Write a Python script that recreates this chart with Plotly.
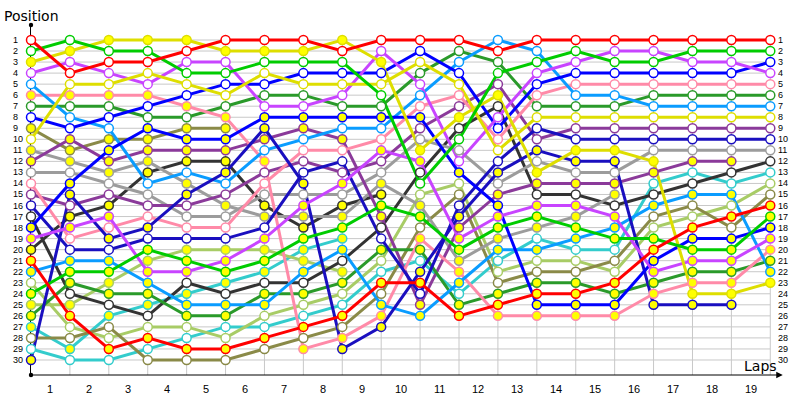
import plotly.graph_objects as go

# ---------------- data ----------------
laps = list(range(20))
positions = list(range(1, 31))
lap_labels = [str(i) for i in range(1, 20)]
N = None

red_w    = [1, 4, 3, 3, 2, 1, 1, 1, 2, 1, 1, 1, 2, 1, 1, 1, 1, 1, 1, 1]
red_y    = [21, 26, 29, 28, 29, 29, 28, 27, 26, 23, 23, 26, 25, 24, 24, 23, 20, 18, 17, 16]
green_w  = [2, 1, 2, 2, 4, 4, 3, 3, 3, 6, 14, 10, 4, 3, 2, 3, 3, 2, 2, 2]
green_y  = [24, 22, 22, 20, 21, 22, 21, 19, 18, 16, 17, 20, 18, 17, 18, 19, 19, 20, 20, 17]
yellow_y = [3, 2, 1, 1, 1, 2, 2, 2, 1, 3, 11, 8, 6, 13, 11, 11, 12, 24, 24, 23]
yellow_w = [10, 5, 5, 4, 5, 6, 4, 5, 5, 5, 3, 5, 11, 8, 8, 8, 8, 8, 8, 8]
violet_w = [4, 3, 4, 5, 3, 3, 7, 7, 6, 2, 5, 12, 8, 4, 3, 2, 2, 3, 3, 4]
violet_y = [19, 18, 17, 22, 22, 21, 19, 16, 14, 11, 12, 19, 17, 16, 16, 17, 22, 21, 21, 19]
lblue_w  = [5, 8, 9, 14, 13, 14, 11, 10, 9, 9, 6, 3, 1, 2, 6, 6, 7, 7, 7, 7]
lblue_y  = [22, 21, 21, 23, 25, 25, 25, 22, 20, 25, 26, 23, 20, 20, 19, 18, 16, 15, 15, 22]
pink_y   = [6, 6, 6, 6, 7, 8, 12, 29, 28, 26, 19, 22, 26, 26, 26, 26, 24, 23, 23, 20]
pink_w   = [14, 19, 18, 17, 18, 18, 14, 11, 11, 10, 7, 6, 10, 6, 5, 5, 5, 5, 5, 5]
dgreen_w = [7, 7, 7, 8, 8, 7, 6, 6, 7, 7, 4, 2, 3, 7, 7, 7, 6, 6, 6, 6]
dgreen_y = [26, 23, 24, 24, 26, 26, 24, 24, 23, 20, 20, 25, 24, 23, 23, 24, 23, 22, 22, 21]
blue_w   = [8, 9, 8, 7, 6, 5, 5, 4, 4, 4, 2, 4, 9, 5, 4, 4, 4, 4, 4, 3]
blue_y   = [18, 14, 11, 9, 10, 10, 8, 8, 8, 8, 8, 13, 16, 25, 25, 25, 21, 19, 19, 18]
olive_y  = [9, 11, 10, 10, 9, 9, N, N, N, N, N, N, N, N, N, N, N, N, N, N]
olive_w  = [28, 28, 27, 30, 30, 30, 29, 28, 27, 24, 18, 15, 23, 22, 22, 21, 17, 16, 18, 15]
gray_y   = [11, 12, 13, 12, 14, 16, 17, 17, 17, 14, 16, 21, 19, 18, 17, 15, N, N, N, N]
gray_w   = [13, 13, 14, 15, 17, 17, 15, 15, 15, 13, 10, 11, 14, 12, 13, 13, 11, 11, 11, 11]
purple_y = [12, 10, 12, 11, 11, 11, 10, 9, 10, 17, 25, 18, 15, 14, 14, 14, 13, 12, 12, N]
purple_w = [15, 16, 15, 16, 16, 15, 13, 12, 13, 12, 9, 7, 5, 10, 9, 9, 9, 9, 9, 9]
black_w  = [17, 24, 25, 26, 23, 24, 23, 23, 21, 18, 13, 9, 7, 15, 15, 16, 15, 14, 13, 12]
black_y  = [20, 17, 16, 13, 12, 12, 16, 18, 16, 15, N, N, N, N, N, N, N, N, N, N]
dblue_w  = [16, 20, 20, 19, 19, 19, 18, 13, 12, 19, 24, 16, 12, 9, 10, 10, 10, 10, 10, 10]
dblue_y  = [30, 15, 19, 18, 15, 13, 9, 14, 29, 27, 22, 17, 13, 11, 12, 12, 25, 25, 25, N]
lgreen_w = [23, 27, 28, 27, 27, 28, 26, 25, 24, 21, 15, 14, 22, 21, 21, 22, 18, 17, 16, 14]
lgreen_y = [25, 25, 23, 21, 20, 20, 20, 21, 22, N, N, N, N, N, N, N, N, N, N, N]
cyan_y   = [27, 29, 26, 25, 24, 23, 22, 20, 19, N, N, N, N, N, N, N, N, N, N, N]
cyan_w   = [29, 30, 30, 29, 28, 27, 27, 26, 25, 22, 21, 24, 21, 19, 20, 20, 14, 13, 14, 13]

# ---------------- styles ----------------
WHITE = "#ffffff"
YFILL = "#ffff00"
series = [
    (cyan_w, "#33cccc", WHITE), (cyan_y, "#33cccc", YFILL),
    (lgreen_w, "#a8cc66", WHITE), (lgreen_y, "#a8cc66", YFILL),
    (olive_w, "#8a8a48", WHITE), (olive_y, "#8a8a48", YFILL),
    (black_w, "#333333", WHITE), (black_y, "#333333", YFILL),
    (gray_w, "#9c9c9c", WHITE), (gray_y, "#9c9c9c", YFILL),
    (purple_w, "#8b3a9a", WHITE), (purple_y, "#8b3a9a", YFILL),
    (dgreen_w, "#2a9a2a", WHITE), (dgreen_y, "#2a9a2a", YFILL),
    (pink_w, "#ff8aa8", WHITE), (pink_y, "#ff8aa8", YFILL),
    (lblue_w, "#0a9cff", WHITE), (lblue_y, "#0a9cff", YFILL),
    (dblue_w, "#1a0fbf", WHITE), (dblue_y, "#1a0fbf", YFILL),
    (blue_w, "#0000ff", WHITE), (blue_y, "#0000ff", YFILL),
    (violet_w, "#c844ff", WHITE), (violet_y, "#c844ff", YFILL),
    (yellow_w, "#dede00", WHITE), (yellow_y, "#dede00", YFILL),
    (green_w, "#00cc00", WHITE), (green_y, "#00cc00", YFILL),
    (red_w, "#ff0000", WHITE), (red_y, "#ff0000", YFILL),
]

fig = go.Figure()
for vals, col, fill in series:
    fig.add_trace(go.Scatter(x=laps, y=vals, mode="lines", connectgaps=False,
                             line=dict(color=col, width=3), cliponaxis=False,
                             hoverinfo="skip"))
for vals, col, fill in series:
    fig.add_trace(go.Scatter(x=laps, y=vals, mode="markers", cliponaxis=False,
                             marker=dict(size=9, color=fill, line=dict(color=col, width=1.5)),
                             hoverinfo="skip"))

# ---------------- layout ----------------
Y_TOP, Y_BOT = -0.359, 31.36
X_MAX = 19.044
GRID = "#c8c8c8"

shapes = []
for p in positions:
    shapes.append(dict(type="line", xref="x", yref="y", x0=laps[0], x1=laps[-1], y0=p, y1=p,
                       line=dict(color=GRID, width=1), layer="below"))
for lp in laps[1:]:
    shapes.append(dict(type="line", xref="x", yref="y", x0=lp, x1=lp, y0=positions[0], y1=Y_BOT,
                       line=dict(color=GRID, width=1), layer="below"))
# dot at top of y axis and at origin
for yy in (1, 0):
    shapes.append(dict(type="circle", xref="paper", yref="paper", xsizemode="pixel", ysizemode="pixel",
                       xanchor=0, yanchor=yy, x0=-2.2, x1=2.2, y0=-2.2, y1=2.2,
                       fillcolor="black", line=dict(color="black", width=0), layer="above"))

annotations = []
lab_font = dict(family="Liberation Sans, Arial, sans-serif", size=9, color="black")
for p in positions:
    annotations.append(dict(x=0, xref="paper", xshift=-20, y=p, yref="y", text=str(p),
                            showarrow=False, xanchor="left", yanchor="middle", font=lab_font))
    annotations.append(dict(x=1, xref="paper", xshift=4, y=p, yref="y", text=str(p),
                            showarrow=False, xanchor="left", yanchor="middle", font=lab_font))

# lap labels centred between lap gridlines
lap_font = dict(family="Liberation Sans, Arial, sans-serif", size=11, color="black")
for i, txt in enumerate(lap_labels):
    annotations.append(dict(x=laps[i] + 0.5, xref="x", y=0, yref="paper", yshift=-6,
                            text=txt, showarrow=False, xanchor="center", yanchor="top",
                            font=lap_font))

title_font = dict(family="DejaVu Sans, sans-serif", size=14, color="black")
annotations.append(dict(x=0, xref="paper", xshift=-29, y=1, yref="paper", yshift=9,
                        text="Position", showarrow=False, xanchor="left", yanchor="middle",
                        font=title_font))
annotations.append(dict(x=1, xref="paper", xshift=7, y=0, yref="paper", yshift=9,
                        text="Laps", showarrow=False, xanchor="right", yanchor="middle",
                        font=title_font))
# x axis with arrow
annotations.append(dict(x=1.0145, xref="paper", y=0, yref="paper", ax=-752, ay=0,
                        axref="pixel", ayref="pixel", showarrow=True, arrowhead=2,
                        arrowsize=1.3, arrowwidth=1, arrowcolor="black", text=""))

fig.update_layout(
    width=800, height=400,
    margin=dict(l=31, r=28, t=25, b=25),
    plot_bgcolor="white", paper_bgcolor="white",
    showlegend=False,
    xaxis=dict(range=[0, X_MAX], showticklabels=False,
               showgrid=False, zeroline=False, showline=False, ticks=""),
    yaxis=dict(range=[Y_BOT, Y_TOP], showticklabels=False, showgrid=False, zeroline=False,
               showline=True, linecolor="black", linewidth=1, ticks="", layer="below traces"),
    shapes=shapes,
    annotations=annotations,
)

fig.write_html("out.html", config={"displayModeBar": False},
               post_script="document.body.style.margin='0px';document.body.style.overflow='hidden';")
